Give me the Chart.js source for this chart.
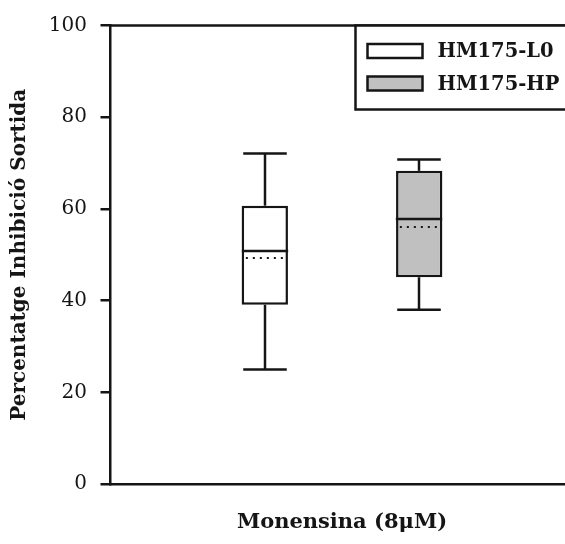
<!DOCTYPE html>
<html>
<head>
<meta charset="utf-8">
<script src="https://cdn.jsdelivr.net/npm/chart.js@4/dist/chart.umd.min.js"></script>
<style>
  html, body { margin: 0; padding: 0; background: #fff; overflow: hidden; }
  /* wrapper is wider than the window: the plot frame runs off the right edge in the original */
  #wrap { width: 580px; height: 544px; position: relative; }
</style>
</head>
<body>
<div id="wrap"><canvas id="chart"></canvas></div>
<script>
// Box plot data
const categories = ['Monensina (8μM)'];
const seriesNames = ['HM175-L0', 'HM175-HP'];
const minVals = [25.0, 38.0];
const q1Vals = [39.1, 45.1];
const medianVals = [50.8, 57.8];
const meanVals = [49.4, 56.0];
const q3Vals = [60.7, 68.3];
const maxVals = [72.1, 70.8];
const yTicks = [0, 20, 40, 60, 80, 100];

const fillColors = ['#ffffff', '#c0c0c0'];
const ink = '#151515';
const lw = 2.5;
const serif = "'DejaVu Serif', serif";

// Whiskers, caps, median and mean drawn on top of the floating bars
const boxExtras = {
  id: 'boxExtras',
  afterDatasetsDraw(chart) {
    const { ctx } = chart;
    const y = chart.scales.y;
    const line = (x1, y1, x2, y2) => {
      ctx.beginPath();
      ctx.moveTo(x1, y1);
      ctx.lineTo(x2, y2);
      ctx.stroke();
    };

    chart.data.datasets.forEach((ds, i) => {
      const bar = chart.getDatasetMeta(i).data[0];
      const x = Math.round(bar.x);
      const half = bar.width / 2;
      const cap = half * 0.94;

      ctx.save();
      ctx.strokeStyle = ink;
      ctx.lineWidth = lw;

      // whiskers
      line(x, y.getPixelForValue(q3Vals[i]), x, y.getPixelForValue(maxVals[i]));
      line(x, y.getPixelForValue(q1Vals[i]), x, y.getPixelForValue(minVals[i]));
      line(x - cap, y.getPixelForValue(maxVals[i]), x + cap, y.getPixelForValue(maxVals[i]));
      line(x - cap, y.getPixelForValue(minVals[i]), x + cap, y.getPixelForValue(minVals[i]));

      // median
      const ym = Math.round(y.getPixelForValue(medianVals[i]));
      line(x - half, ym, x + half, ym);

      // mean (dotted)
      const ya = Math.round(y.getPixelForValue(meanVals[i]));
      ctx.lineWidth = 2;
      ctx.setLineDash([2, 5]);
      line(x - half + 4, ya, x + half - 2, ya);
      ctx.restore();
    });
  }
};

// Top frame line and boxed legend in the upper right
const frameAndLegend = {
  id: 'frameAndLegend',
  afterDraw(chart) {
    const { ctx, chartArea } = chart;
    ctx.save();
    ctx.strokeStyle = ink;
    ctx.lineWidth = lw;

    ctx.beginPath();
    ctx.moveTo(chartArea.left, chartArea.top);
    ctx.lineTo(chart.width, chartArea.top);
    ctx.stroke();

    const left = chartArea.left + 245;
    const top = chartArea.top;
    ctx.fillStyle = '#fff';
    ctx.fillRect(left, top, chart.width - left + 10, 84);
    ctx.strokeRect(left, top, chart.width - left + 10, 84);

    const rows = [top + 25.5, top + 58];
    ctx.font = "bold 19.5px " + serif;
    ctx.textBaseline = 'middle';
    seriesNames.forEach((name, i) => {
      const cy = rows[i];
      ctx.fillStyle = fillColors[i];
      ctx.fillRect(left + 12, cy - 7, 55, 14);
      ctx.strokeRect(left + 12, cy - 7, 55, 14);
      ctx.fillStyle = ink;
      ctx.fillText(name, left + 82, cy + 1);
    });
    ctx.restore();
  }
};

const datasets = seriesNames.map((name, i) => ({
  label: name,
  data: [[q1Vals[i], q3Vals[i]]],
  backgroundColor: fillColors[i],
  borderColor: ink,
  borderWidth: lw,
  borderSkipped: false,
  categoryPercentage: 0.667,
  barPercentage: 0.30
}));

new Chart(document.getElementById('chart'), {
  type: 'bar',
  data: { labels: categories, datasets },
  options: {
    responsive: true,
    maintainAspectRatio: false,
    animation: false,
    layout: { padding: { top: 24, right: 6.5, left: 0, bottom: 0 } },
    plugins: {
      legend: { display: false },
      tooltip: { enabled: false }
    },
    scales: {
      x: {
        grid: { display: false },
        ticks: { display: false },
        border: { display: true, color: ink, width: lw },
        title: {
          display: true,
          text: categories[0],
          color: ink,
          font: { family: serif, size: 21, weight: 'bold' },
          padding: { top: 0, bottom: 9 }
        },
        afterFit: (s) => { s.height = 60; }
      },
      y: {
        min: 0,
        max: 100,
        afterBuildTicks: (s) => { s.ticks = yTicks.map(v => ({ value: v })); },
        grid: {
          display: true,
          drawOnChartArea: false,
          drawTicks: true,
          tickLength: 10,
          color: ink,
          lineWidth: lw
        },
        border: { display: true, color: ink, width: lw },
        ticks: {
          color: ink,
          padding: 13.5,
          font: { family: serif, size: 20 }
        },
        title: {
          display: true,
          text: 'Percentatge Inhibició Sortida',
          color: ink,
          font: { family: serif, size: 20, weight: 'bold' },
          padding: { top: 8, bottom: 0 }
        },
        afterFit: (s) => { s.width = 110.5; }
      }
    }
  },
  plugins: [boxExtras, frameAndLegend]
});
</script>
</body>
</html>
